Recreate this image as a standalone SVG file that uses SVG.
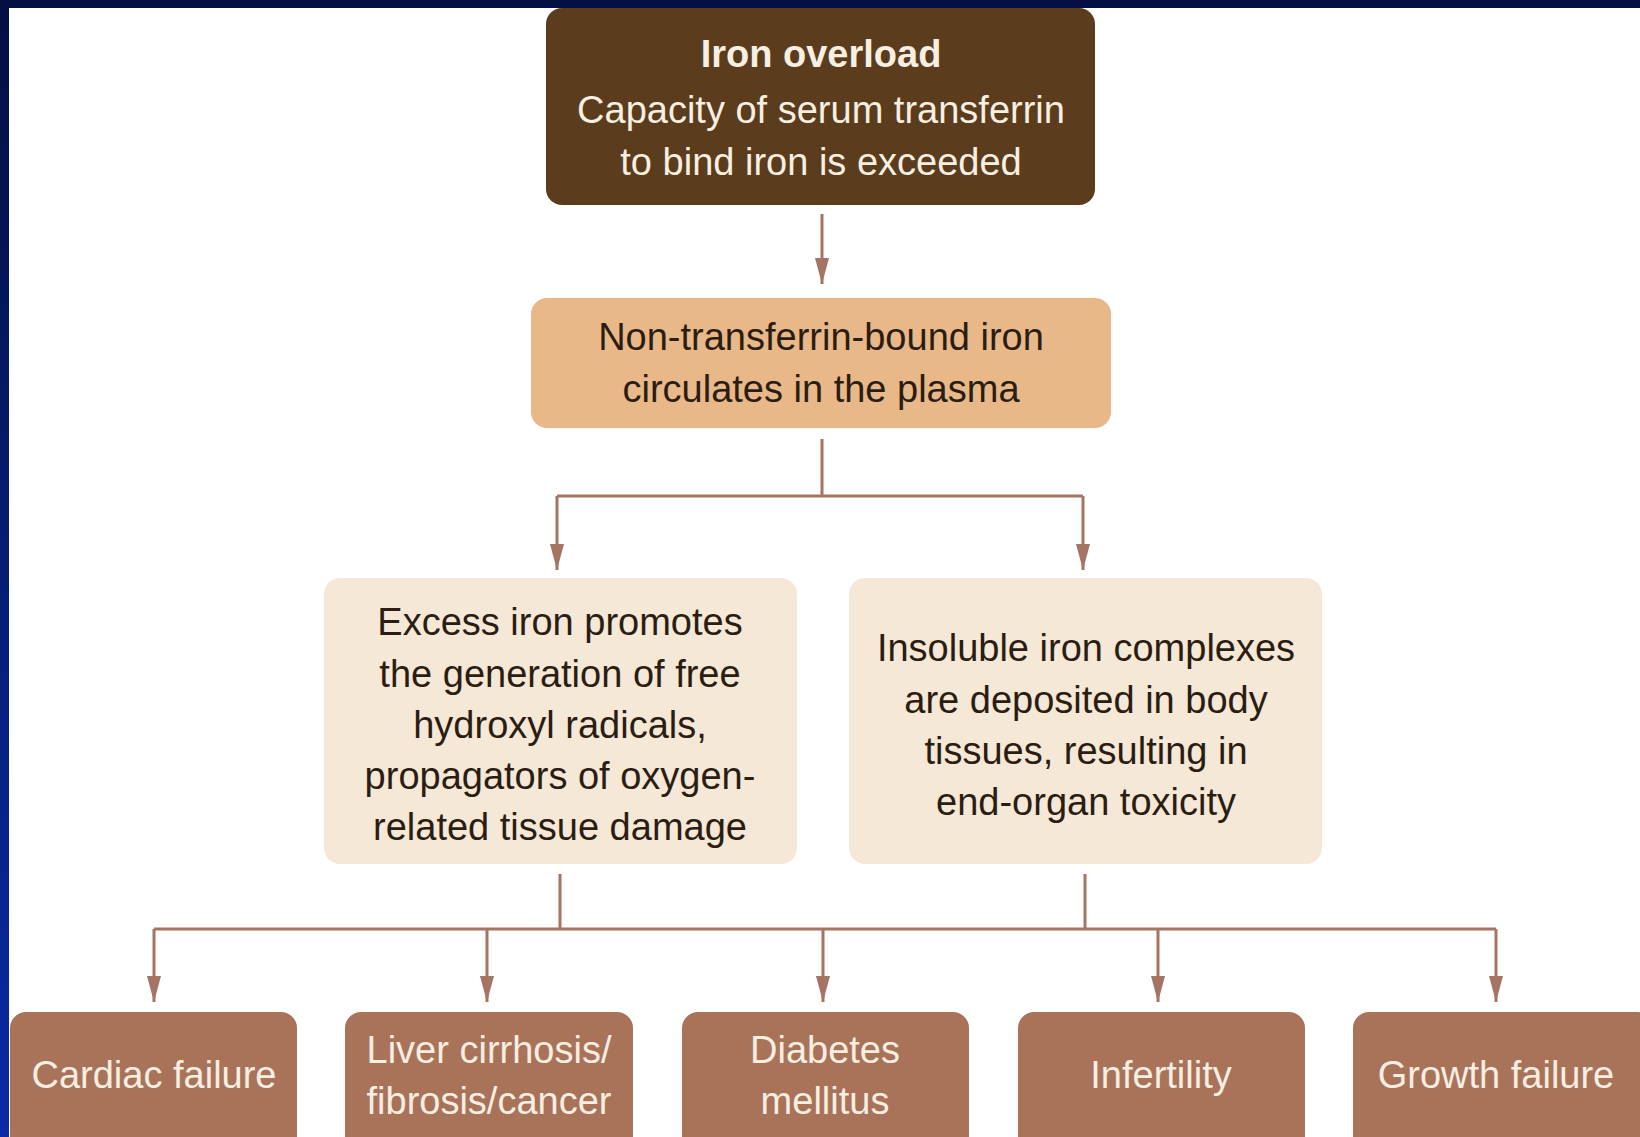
<svg xmlns="http://www.w3.org/2000/svg" width="1640" height="1137" viewBox="0 0 1640 1137">
  <defs>
    <linearGradient id="edge" x1="0" y1="0" x2="0" y2="1">
      <stop offset="0" stop-color="#031041"/>
      <stop offset="1" stop-color="#0a2aa6"/>
    </linearGradient>
    <marker id="arr" viewBox="0 0 26 14" refX="26" refY="7" markerWidth="26" markerHeight="14" markerUnits="userSpaceOnUse" orient="auto">
      <path d="M0,0 L26,7 L0,14 z" fill="#a57462"/>
    </marker>
  </defs>
  <style>
    text { font-family: "Liberation Sans", Arial, sans-serif; font-size: 38px; text-anchor: middle; }
    .c { fill: none; stroke: #a57462; stroke-width: 3; }
    .ca { fill: none; stroke: #a57462; stroke-width: 3; marker-end: url(#arr); }
    .top rect { fill: #5b3c1d; }
    .top text { fill: #f6efe2; }
    .tan rect { fill: #e8b888; }
    .tan text { fill: #2b1d12; }
    .light rect { fill: #f6e8d7; }
    .light text { fill: #2b1d12; }
    .out rect { fill: #a9735a; }
    .out text { fill: #f7eee2; }
  </style>
  <rect x="0" y="0" width="1640" height="1137" fill="#ffffff"/>
  <rect x="0" y="0" width="9" height="1137" fill="url(#edge)"/>
  <rect x="0" y="0" width="1640" height="8" fill="#031041"/>

  <g id="connectors">
    <line class="ca" x1="822" y1="214" x2="822" y2="284"/>
    <path class="c" d="M822 439 V496 M557 496 H1083"/>
    <line class="ca" x1="557" y1="496" x2="557" y2="570"/>
    <line class="ca" x1="1083" y1="496" x2="1083" y2="570"/>
    <path class="c" d="M560 874 V929 M1085 874 V929 M154 929 H1496"/>
    <line class="ca" x1="154" y1="929" x2="154" y2="1002"/>
    <line class="ca" x1="487" y1="929" x2="487" y2="1002"/>
    <line class="ca" x1="823" y1="929" x2="823" y2="1002"/>
    <line class="ca" x1="1158" y1="929" x2="1158" y2="1002"/>
    <line class="ca" x1="1496" y1="929" x2="1496" y2="1002"/>
  </g>

  <g id="iron-overload" class="top">
    <rect x="546" y="8" width="549" height="197" rx="16"/>
    <text x="821" y="67" font-weight="bold">Iron overload</text>
    <text x="821" y="123">Capacity of serum transferrin</text>
    <text x="821" y="175">to bind iron is exceeded</text>
  </g>

  <g id="ntbi" class="tan">
    <rect x="531" y="298" width="580" height="130" rx="16"/>
    <text x="821" y="350">Non-transferrin-bound iron</text>
    <text x="821" y="402">circulates in the plasma</text>
  </g>

  <g id="radicals" class="light">
    <rect x="324" y="578" width="473" height="286" rx="16"/>
    <text x="560" y="635">Excess iron promotes</text>
    <text x="560" y="687">the generation of free</text>
    <text x="560" y="738">hydroxyl radicals,</text>
    <text x="560" y="789">propagators of oxygen-</text>
    <text x="560" y="840">related tissue damage</text>
  </g>

  <g id="deposits" class="light">
    <rect x="849" y="578" width="473" height="286" rx="16"/>
    <text x="1086" y="661">Insoluble iron complexes</text>
    <text x="1086" y="713">are deposited in body</text>
    <text x="1086" y="764">tissues, resulting in</text>
    <text x="1086" y="815">end-organ toxicity</text>
  </g>

  <g id="cardiac" class="out">
    <rect x="10" y="1012" width="287" height="150" rx="16"/>
    <text x="154" y="1088">Cardiac failure</text>
  </g>
  <g id="liver" class="out">
    <rect x="345" y="1012" width="288" height="150" rx="16"/>
    <text x="489" y="1063">Liver cirrhosis/</text>
    <text x="489" y="1114">fibrosis/cancer</text>
  </g>
  <g id="diabetes" class="out">
    <rect x="682" y="1012" width="287" height="150" rx="16"/>
    <text x="825" y="1063">Diabetes</text>
    <text x="825" y="1114">mellitus</text>
  </g>
  <g id="infertility" class="out">
    <rect x="1018" y="1012" width="287" height="150" rx="16"/>
    <text x="1161" y="1088">Infertility</text>
  </g>
  <g id="growth" class="out">
    <rect x="1353" y="1012" width="300" height="150" rx="16"/>
    <text x="1496" y="1088">Growth failure</text>
  </g>
</svg>
